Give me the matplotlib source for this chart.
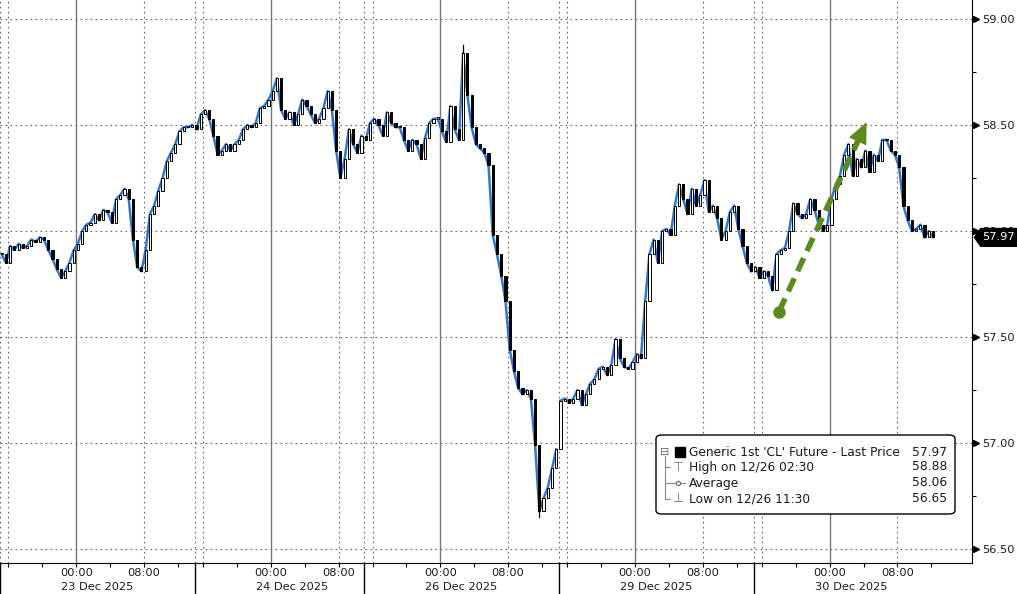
import matplotlib
matplotlib.use('Agg')
import matplotlib.pyplot as plt
import numpy as np
from matplotlib.patches import FancyBboxPatch, Polygon
from matplotlib.transforms import blended_transform_factory

# ---------------- data ----------------
session_dates = ['23 Dec 2025', '24 Dec 2025', '26 Dec 2025', '29 Dec 2025', '30 Dec 2025']
session_start = [0, 23, 43, 66, 89]       # chart hours (15:00 of previous day)
session_len = [23, 20, 23, 23, 23]         # hours

closes_23 = [57.89, 57.85, 57.93, 57.91, 57.94, 57.92, 57.93, 57.96, 57.95, 57.97,
             57.96, 57.91, 57.87, 57.82, 57.78, 57.81, 57.85, 57.91, 57.94, 58.00,
             58.03, 58.04, 58.08, 58.05, 58.10, 58.09, 58.04, 58.15, 58.17, 58.20,
             58.15, 57.96, 57.83, 57.81, 57.91, 58.08, 58.12, 58.19, 58.25, 58.33,
             58.37, 58.41, 58.47, 58.49, 58.49, 58.50]
closes_24 = [58.48, 58.55, 58.57, 58.53, 58.45, 58.36, 58.38, 58.41, 58.38, 58.41,
             58.43, 58.48, 58.50, 58.49, 58.51, 58.58, 58.59, 58.62, 58.66, 58.72,
             58.57, 58.53, 58.56, 58.50, 58.55, 58.62, 58.59, 58.55, 58.51, 58.53,
             58.58, 58.66, 58.57, 58.38, 58.25, 58.34, 58.48, 58.41, 58.37, 58.45]
closes_26 = [58.43, 58.51, 58.53, 58.50, 58.45, 58.56, 58.51, 58.49, 58.49, 58.43,
             58.38, 58.43, 58.41, 58.34, 58.44, 58.51, 58.53, 58.53, 58.47, 58.42,
             58.59, 58.48, 58.43, 58.84, 58.64, 58.49, 58.41, 58.39, 58.37, 58.31,
             57.98, 57.89, 57.79, 57.67, 57.44, 57.34, 57.26, 57.23, 57.25, 57.21,
             56.99, 56.68, 56.74, 56.79, 56.88, 56.97]
closes_29 = [57.20, 57.21, 57.19, 57.21, 57.25, 57.18, 57.23, 57.28, 57.30, 57.35,
             57.36, 57.32, 57.37, 57.49, 57.40, 57.36, 57.35, 57.38, 57.42, 57.40,
             57.67, 57.89, 57.96, 57.85, 58.00, 58.01, 57.98, 58.12, 58.22, 58.15,
             58.08, 58.20, 58.12, 58.17, 58.24, 58.09, 58.12, 58.06, 57.96, 58.00,
             58.09, 58.12, 58.01, 57.93, 57.85, 57.81]
closes_30 = [57.83, 57.78, 57.81, 57.79, 57.72, 57.89, 57.91, 57.92, 58.00, 58.13,
             58.08, 58.06, 58.08, 58.15, 58.10, 58.03, 58.00, 58.03, 58.15, 58.22,
             58.26, 58.36, 58.41, 58.26, 58.34, 58.30, 58.38, 58.28, 58.36, 58.33,
             58.43, 58.43, 58.38, 58.36, 58.30, 58.12, 58.05, 58.00, 58.01, 58.03,
             57.97, 58.00, 57.97]
session_closes = [closes_23, closes_24, closes_26, closes_29, closes_30]
bar_hours = 0.5

price_ticks = [56.50, 57.00, 57.50, 58.00, 58.50, 59.00]
last_price = 57.97
high_value, high_session, high_bar = 58.88, 2, 23
low_value, low_session, low_bar = 56.65, 2, 41

legend_labels = ["Generic 1st 'CL' Future - Last Price", "High on 12/26 02:30",
                 "Average", "Low on 12/26 11:30"]
legend_values = ["57.97", "58.88", "58.06", "56.65"]

arrow_start = (92.0, 57.62)
arrow_end = (102.3, 58.51)

# ---------------- figure ----------------
W, H = 1017, 594
fig = plt.figure(figsize=(W / 100, H / 100), dpi=100)
ax = fig.add_axes([0, 1 - 563 / H, 972 / W, 563 / H])
ax.set_xlim(0, 114.8)
ax.set_ylim(56.434, 59.090)

blue = '#2f78d2'
txtc = '#1a1a1a'
FS = 8.2

# grid lines
dot = (0, (1.5, 3))
for p in price_ticks:
    ax.axhline(p, color='#666666', lw=0.8, ls=dot, zorder=0)
for s, L in zip(session_start, session_len):
    ax.axvline(s, color='#666666', lw=0.8, ls=dot, zorder=0)
    ax.axvline(s + 1, color='#666666', lw=0.8, ls=dot, zorder=0)
    ax.axvline(s + 9, color='#777777', lw=1.0, zorder=0)
    ax.axvline(s + 17, color='#666666', lw=0.8, ls=dot, zorder=0)

# price series
all_x, all_c = [], []
for s, closes in zip(session_start, session_closes):
    xs = [s + bar_hours * k + 0.2 for k in range(len(closes))]
    all_x += xs
    all_c += closes
all_x = np.array(all_x)
all_c = np.array(all_c)
opens = np.concatenate([[all_c[0]], all_c[:-1]])

idx = 0
for s, closes in zip(session_start, session_closes):
    n = len(closes)
    ax.plot(all_x[idx:idx + n], all_c[idx:idx + n], color=blue, lw=1.8, zorder=2)
    idx += n

up = all_c >= opens
bottoms = np.minimum(opens, all_c)
heights = np.maximum(np.abs(all_c - opens), 0.006)
ax.bar(all_x[up], heights[up], bottom=bottoms[up], width=0.26,
       facecolor='white', edgecolor='black', lw=0.7, zorder=3)
ax.bar(all_x[~up], heights[~up], bottom=bottoms[~up], width=0.26,
       facecolor='black', edgecolor='black', lw=0.7, zorder=3)

def bar_pos(si, k):
    return sum(len(c) for c in session_closes[:si]) + k
hi = bar_pos(high_session, high_bar)
lo = bar_pos(low_session, low_bar)
ax.plot([all_x[hi]] * 2, [max(all_c[hi], opens[hi]), high_value], color='black', lw=0.9, zorder=3)
ax.plot([all_x[lo]] * 2, [min(all_c[lo], opens[lo]), low_value], color='black', lw=0.9, zorder=3)

# green dashed arrow
green = '#5b8a1e'
t = ax.transData
p0 = t.transform(arrow_start)
p1 = t.transform(arrow_end)
d = (p1 - p0) / np.linalg.norm(p1 - p0)
nrm = np.array([-d[1], d[0]])
head_len, head_w = 20, 18
base = p1 - d * head_len
head = t.inverted().transform([p1, base + nrm * head_w / 2, base - nrm * head_w / 2])
line_end = t.inverted().transform([base + d * 1])[0]
ax.plot([arrow_start[0], line_end[0]], [arrow_start[1], line_end[1]], color=green, lw=4,
        ls=(0, (2.6, 1.4)), dash_capstyle='butt', zorder=5)
ax.plot([arrow_start[0]], [arrow_start[1]], marker='o', ms=8, color=green, zorder=5)
ax.add_patch(Polygon(head, closed=True, facecolor=green, edgecolor=green, lw=0.5, zorder=6))

# spines
for sp in ['left', 'top']:
    ax.spines[sp].set_visible(False)
ax.spines['right'].set_color('black')
ax.spines['bottom'].set_color('black')

# y axis on right
ax.yaxis.tick_right()
ax.set_yticks(price_ticks)
ax.set_yticklabels([f'{p:.2f}' for p in price_ticks])
ax.set_yticks([p + 0.25 for p in price_ticks[:-1]], minor=True)
ax.tick_params(axis='y', which='major', length=0, pad=7, labelsize=FS, labelcolor=txtc)
ax.tick_params(axis='y', which='minor', length=3, width=0.8, direction='out', color='black')
ytr = blended_transform_factory(ax.transAxes, ax.transData)
ax.plot([1.0042] * len(price_ticks), price_ticks, ls='none', marker='>', ms=4.5,
        color='black', transform=ytr, clip_on=False)

# x axis
major_x, major_lab, minor_x = [], [], []
for s, L in zip(session_start, session_len):
    major_x += [s + 9, s + 17]
    major_lab += ['00:00', '08:00']
    minor_x += [s + h for h in range(1, L, 4)]
ax.set_xticks(major_x)
ax.set_xticklabels(major_lab)
ax.set_xticks(minor_x, minor=True)
ax.tick_params(axis='x', which='both', length=3, width=0.8, direction='out',
               pad=0.5, labelsize=FS, labelcolor=txtc, color='black')
xtr = blended_transform_factory(ax.transData, ax.transAxes)
for s, L, d_ in zip(session_start, session_len, session_dates):
    ax.text(s + 23 / 2, -0.0435, d_, transform=xtr, ha='center', va='center',
            fontsize=FS, color=txtc)
    ax.plot([s, s], [0, -0.06], transform=xtr, color='black', lw=1, clip_on=False)

# last price tag
hh = 0.042
tag = Polygon([(1.0025, last_price), (1.009, last_price + hh), (1.046, last_price + hh),
               (1.046, last_price - hh), (1.009, last_price - hh)], closed=True,
              facecolor='black', edgecolor='black', transform=ytr, clip_on=False, zorder=10)
ax.add_patch(tag)
ax.text(1.0275, last_price, f'{last_price:.2f}', transform=ytr, color='white',
        fontsize=FS, ha='center', va='center', zorder=11, clip_on=False)

# legend
def fx(px):
    return px / W
def fy(py):
    return 1 - py / H

box = FancyBboxPatch((fx(656), fy(514)), fx(955) - fx(656), fy(435) - fy(514),
                     boxstyle='round,pad=0,rounding_size=0.006', transform=fig.transFigure,
                     facecolor='white', edgecolor='black', lw=1.0, zorder=20)
fig.add_artist(box)
rows_y = [452, 467, 483, 499]
tree = '#888888'
fig.add_artist(plt.Line2D([fx(665), fx(665)], [fy(456), fy(499)], transform=fig.transFigure,
                          color=tree, lw=0.8, zorder=21))
for ry in rows_y[1:]:
    fig.add_artist(plt.Line2D([fx(665), fx(670)], [fy(ry), fy(ry)], transform=fig.transFigure,
                              color=tree, lw=0.8, zorder=21))
fig.text(fx(665), fy(452), '\u229f', fontsize=8, color='#666666', ha='center', va='center', zorder=22)
fig.add_artist(plt.Rectangle((fx(675), fy(457)), fx(10), fy(0) - fy(10), transform=fig.transFigure,
                             facecolor='black', edgecolor='black', zorder=22))
fig.text(fx(678), fy(467), '\u22a4', fontsize=9, color='#777777', ha='center', va='center', zorder=22)
fig.add_artist(plt.Line2D([fx(671), fx(685)], [fy(483), fy(483)], transform=fig.transFigure,
                          color='#888888', lw=0.8, zorder=22))
fig.add_artist(plt.Line2D([fx(678)], [fy(483)], transform=fig.transFigure, marker='o', ms=3,
                          mfc='white', mec='#777777', zorder=23))
fig.text(fx(678), fy(499), '\u22a5', fontsize=9, color='#777777', ha='center', va='center', zorder=22)
for ry, lab, val in zip(rows_y, legend_labels, legend_values):
    fig.text(fx(689), fy(ry), lab, fontsize=8.8, color=txtc, ha='left', va='center', zorder=22)
    fig.text(fx(947), fy(ry), val, fontsize=8.8, color=txtc, ha='right', va='center', zorder=22)

fig.savefig('out.png', dpi=100, facecolor='white')
